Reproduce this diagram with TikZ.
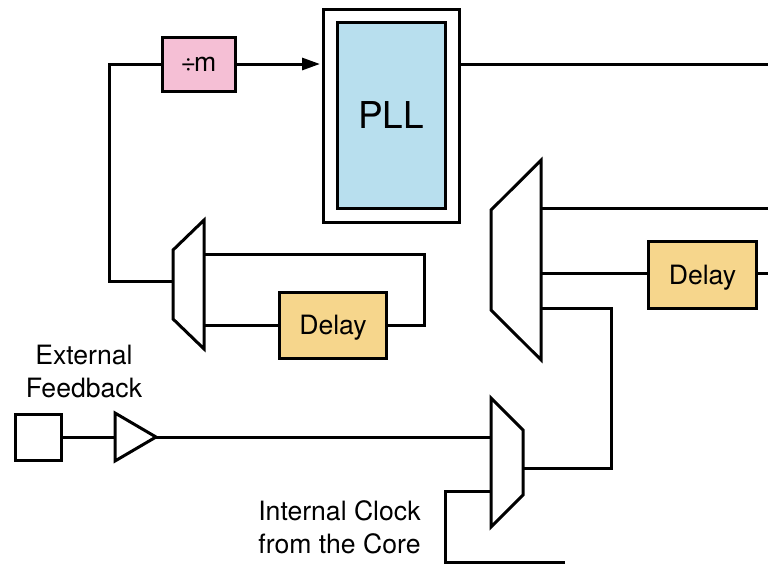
\documentclass[tikz,border=0pt]{standalone}
\usepackage{fontspec}
\setmainfont{TeX Gyre Heros}
\usetikzlibrary{arrows.meta, positioning, shapes.geometric}
\definecolor{divpink}{HTML}{F5BFD5}
\definecolor{pllblue}{HTML}{B8DFEE}
\definecolor{delayyellow}{HTML}{F6D68C}
\newcommand{\muxbody}{\phantom{\rule{10pt}{10pt}}}
\tikzset{
  block/.style={
    draw=black,
    outer sep=0pt,
    inner sep=0pt,
    align=center,
    font=\fontsize{26.6}{33}\selectfont
  },
  delay/.style={
    block,
    fill=delayyellow,
    text depth=0pt,
    minimum width=107pt,
    minimum height=66pt
  },
  mux/.style={
    draw=black,
    trapezium,
    trapezium stretches=true,
    trapezium left angle=#1,
    trapezium right angle=#1,
    outer sep=0pt,
    inner sep=0pt
  },
  note/.style={
    align=center,
    inner sep=0pt,
    font=\fontsize{26.6}{33}\selectfont
  },
  wire/.style={draw,line width=3pt}
}
\begin{document}
\begin{tikzpicture}[x=1pt, y=-1pt, line width=3pt]
    \useasboundingbox (0,0) rectangle (768,563);
    \node (pllouter) [block, minimum width=136pt, minimum height=213pt] at (391,115.5) {};
    \node (pll) [block, fill=pllblue, minimum width=108pt, minimum height=186pt, font=\fontsize{37}{40}\selectfont] at (391,115) {PLL};
    \node (divm) [block, fill=divpink, minimum width=73pt, minimum height=54pt] at (198.5,64) {÷\kern-2pt m};
    \node (muxa) [mux=66.5, shape border rotate=90, minimum width=129pt, minimum height=31pt] at (188.5,284.5) {\muxbody};
    \node (muxb) [mux=63.4, shape border rotate=90, minimum width=200pt, minimum height=50pt] at (516,260) {\muxbody};
    \node (muxc) [mux=63.8, shape border rotate=270, minimum width=129pt, minimum height=32pt] at (507,462.5) {\muxbody};
    \node (delaya) [delay] at (333,325) {Delay};
    \node (delayb) [delay, minimum width=108pt, minimum height=67pt] at (702.5,274.5) {Delay};
    \node (pin) [block, minimum width=46pt, minimum height=46pt] at (38,437) {};
    \node (buf) [draw=black, isosceles triangle, isosceles triangle stretches=true, minimum width=48pt, minimum height=41pt, outer sep=0pt, inner sep=0pt, anchor=west] at (115,437) {\phantom{x}};
    \node (extlabel) [note] at (84,371) {External\\Feedback};
    \node (intlabel) [note] at (339.5,527.5) {Internal Clock\\from the Core};
    \coordinate (pllout) at (768,64);
    \coordinate (muxbtop) at (768,208);
    \coordinate (delayout) at (768,273);
    \coordinate (coreclk) at (565,562);
    \coordinate (fbturn) at (109,281);
    \coordinate (loopturn) at (424,254);
    \coordinate (routeturn) at (611,308);
    \coordinate (routeend) at (611,468);
    \coordinate (coreturn) at (445,491);
    \draw [wire, -{Triangle[length=18pt,width=12pt]}, shorten >=3pt] (divm.east) -- (divm.east -| pllouter.west);
    \draw [wire] (pllouter.east |- pllout) -- (pllout);
    \draw [wire] (muxa.west |- fbturn) -- (fbturn) |- (divm.west);
    \draw [wire] (muxa.east |- loopturn) -- (loopturn) |- (delaya.east);
    \draw [wire] (delaya.west) -- (delaya.west -| muxa.east);
    \draw [wire] (muxb.east |- muxbtop) -- (muxbtop);
    \draw [wire] (muxb.east |- delayout) -- (delayout -| delayb.west);
    \draw [wire] (delayout -| delayb.east) -- (delayout);
    \draw [wire] (muxb.east |- routeturn) -- (routeturn) -- (routeend) -- (routeend -| muxc.east);
    \draw [wire] (pin.east) -- (buf.west);
    \draw [wire] (buf.east) -- (buf.east -| muxc.west);
    \draw [wire] (muxc.west |- coreturn) -- (coreturn) |- (coreclk);
  \end{tikzpicture}
\end{document}
